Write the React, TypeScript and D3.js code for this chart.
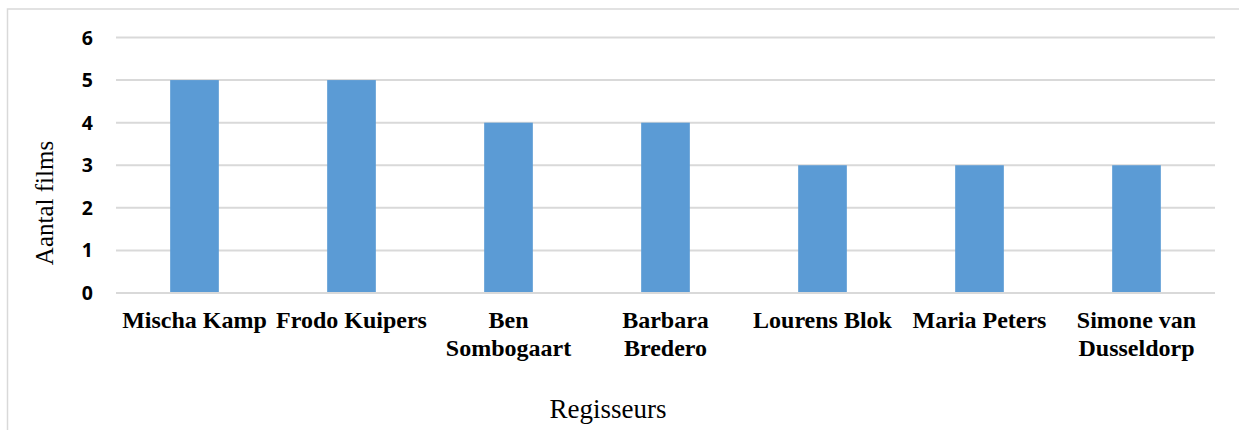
import React from "react";
import * as d3 from "d3";

const categories = [
  "Mischa Kamp",
  "Frodo Kuipers",
  "Ben\nSombogaart",
  "Barbara\nBredero",
  "Lourens Blok",
  "Maria Peters",
  "Simone van\nDusseldorp",
];
const values = [5, 5, 4, 4, 3, 3, 3];
const yTicks = [0, 1, 2, 3, 4, 5, 6];
const xTitle = "Regisseurs";
const yTitle = "Aantal films";

const W = 1239;
const H = 430;
const plot = { left: 116, right: 1215, top: 37.5, bottom: 293 };

export default function App() {
  const x = d3
    .scaleBand<string>()
    .domain(categories)
    .range([plot.left, plot.right])
    .paddingInner(0.69)
    .paddingOuter(0.345);
  const y = d3.scaleLinear().domain([0, 6]).range([plot.bottom, plot.top]);
  const xc = d3.scaleBand<string>().domain(categories).range([plot.left, plot.right]);

  return (
    <div style={{ position: "fixed", left: 0, top: 0, width: W, height: H, background: "#fff" }}>
      <svg width={W} height={H} style={{ display: "block" }}>
        <rect x={0} y={0} width={W} height={H} fill="#fff" />
        <path d={`M7.5,${H} V9 H${W}`} fill="none" stroke="#d9d9d9" strokeWidth={1.5} />
        {yTicks.map((t) => (
          <g key={t}>
            <line x1={plot.left} x2={plot.right} y1={y(t)} y2={y(t)} stroke="#d9d9d9" strokeWidth={2} />
            <text
              x={93}
              y={y(t)}
              dy="0.36em"
              textAnchor="end"
              fontFamily="'Open Sans', 'Liberation Sans', sans-serif"
              fontWeight={700}
              fontSize={19.5}
              fill="#000"
            >
              {t}
            </text>
          </g>
        ))}
        {categories.map((c, i) => (
          <rect
            key={c}
            x={x(c)}
            width={x.bandwidth()}
            y={y(values[i])}
            height={y(0) - y(values[i]) - 1}
            fill="#5B9BD5"
          />
        ))}
        {categories.map((c) => {
          const lines = c.split("\n");
          const cx = (xc(c) as number) + xc.bandwidth() / 2;
          return (
            <text
              key={c}
              x={cx}
              y={328}
              textAnchor="middle"
              fontFamily="'Liberation Serif', 'Times New Roman', serif"
              fontWeight={700}
              fontSize={24}
              fill="#000"
            >
              {lines.map((l, j) => (
                <tspan key={j} x={cx} dy={j === 0 ? 0 : 28}>
                  {l}
                </tspan>
              ))}
            </text>
          );
        })}
        <text
          x={608}
          y={418}
          textAnchor="middle"
          fontFamily="'Liberation Serif', 'Times New Roman', serif"
          fontSize={27}
          fill="#000"
        >
          {xTitle}
        </text>
        <text
          transform={`translate(53,203) rotate(-90)`}
          textAnchor="middle"
          fontFamily="'Liberation Serif', 'Times New Roman', serif"
          fontSize={25}
          fill="#000"
        >
          {yTitle}
        </text>
      </svg>
    </div>
  );
}
